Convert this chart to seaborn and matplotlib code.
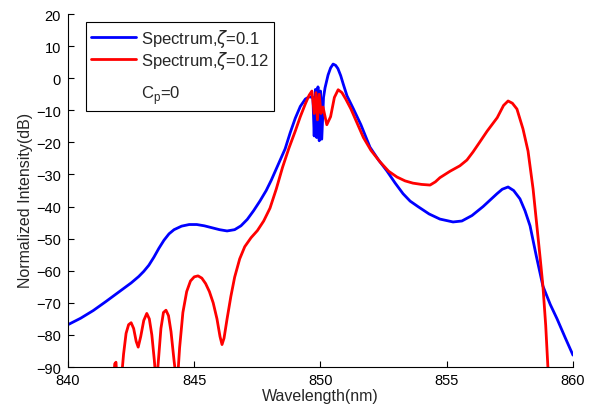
import matplotlib
matplotlib.use("Agg")
import matplotlib.pyplot as plt
import seaborn as sns
import pandas as pd
from matplotlib.lines import Line2D

# ---- data ----
blue_x = [840.0, 840.5, 841.0, 841.5, 842.0, 842.5, 842.8, 843.0, 843.2, 843.4,
          843.6, 843.8, 844.0, 844.2, 844.5, 844.8, 845.1, 845.4, 845.7, 846.0,
          846.3, 846.6, 846.85, 847.1, 847.35, 847.6, 847.85, 848.05, 848.28, 848.6,
          848.8, 849.0, 849.2, 849.4, 849.55, 849.7,
          849.75, 849.8, 849.85, 849.9, 849.95, 850.0, 850.05, 850.12,
          850.18, 850.3, 850.4, 850.5, 850.6, 850.69, 850.8, 850.9, 851.05, 851.3,
          851.6, 851.96, 852.3, 852.63, 852.95, 853.27, 853.55, 853.86, 854.3, 854.73,
          855.25, 855.6, 856.0, 856.44, 856.99, 857.2, 857.43, 857.65, 857.9, 858.1,
          858.3, 858.55, 858.81, 859.1, 859.37, 859.7, 860.0]
blue_y = [-76.8, -74.8, -72.4, -69.6, -66.7, -63.8, -61.8, -60.2, -58.3, -55.8,
          -53.0, -50.5, -48.5, -47.2, -46.1, -45.6, -45.6, -46.0, -46.6, -47.2,
          -47.6, -47.2, -46.0, -44.0, -41.3, -38.3, -35.0, -31.8, -27.7, -22.0,
          -17.0, -12.5, -8.8, -6.5, -5.8, -6.0,
          -18.0, -3.5, -18.5, -2.7, -19.5, -4.0, -19.0, -6.0,
          -3.0, 1.0, 3.2, 4.4, 4.0, 3.0, 0.8, -1.8, -5.5, -9.5,
          -14.5, -21.5, -25.5, -28.9, -32.6, -36.0, -38.3, -40.0, -42.3, -43.9,
          -44.8, -44.5, -42.8, -40.0, -36.0, -34.6, -33.9, -35.0, -37.6, -41.3,
          -46.0, -55.5, -64.8, -70.5, -75.0, -81.0, -86.3]

red_x = [841.8, 841.85, 841.9, 841.95, 842.1, 842.2, 842.3, 842.4, 842.5, 842.6,
         842.7, 842.78, 842.88, 843.0, 843.12, 843.22, 843.32, 843.42, 843.5, 843.58,
         843.68, 843.78, 843.88, 843.98, 844.08, 844.2, 844.32, 844.42, 844.55, 844.7,
         844.85, 845.0, 845.15, 845.3, 845.45, 845.6, 845.75, 845.9, 846.02, 846.1,
         846.18, 846.3, 846.45, 846.6, 846.8, 847.0, 847.25, 847.5, 847.75, 848.0,
         848.25, 848.5, 848.75, 849.0, 849.2, 849.4, 849.55, 849.66,
         849.75, 849.82, 849.88, 849.95, 850.02, 850.1, 850.25, 850.4, 850.55, 850.7,
         850.85, 851.0, 851.2, 851.45, 851.7, 852.0, 852.36, 852.7, 853.03, 853.35,
         853.66, 854.0, 854.34, 854.55, 854.73, 855.13, 855.52, 855.8, 856.04, 856.3,
         856.6, 857.0, 857.25, 857.43, 857.6, 857.78, 858.02, 858.22, 858.42, 858.57,
         858.7, 858.81, 858.92, 859.02]
red_y = [-95.0, -89.0, -88.5, -95.0, -95.0, -86.0, -79.5, -76.8, -76.2, -78.0,
         -82.0, -83.8, -80.5, -75.5, -73.3, -75.0, -80.0, -88.0, -96.0, -88.0,
         -78.0, -73.0, -72.3, -74.0, -79.0, -88.0, -96.0, -84.0, -73.0, -66.5,
         -63.2, -61.9, -61.6, -62.3, -64.0, -66.5, -70.0, -75.0, -80.5, -83.0,
         -81.0, -75.0, -68.0, -62.0, -56.3, -52.5, -49.7, -47.5, -44.5, -40.5,
         -34.5, -27.7, -21.8, -16.5, -12.0, -8.0, -5.3, -4.0,
         -11.0, -4.5, -13.0, -5.0, -11.0, -9.0, -14.5, -12.0, -6.0, -3.6,
         -4.5, -6.5, -9.5, -14.0, -18.5, -22.5, -26.1, -29.0, -30.8, -32.0,
         -32.7, -33.1, -33.3, -32.3, -31.0, -29.0, -27.3, -25.5, -23.0, -20.0,
         -16.5, -12.3, -8.5, -7.1, -7.8, -9.6, -15.8, -22.7, -34.5, -46.0,
         -56.0, -64.8, -77.0, -92.0]

labels = ["Spectrum,$\\zeta$=0.1", "Spectrum,$\\zeta$=0.12"]
note_label = "C$_\\mathregular{p}$=0"
x_ticks = [840, 845, 850, 855, 860]
y_ticks = [-90, -80, -70, -60, -50, -40, -30, -20, -10, 0, 10, 20]

# ---- plotting ----
sns.set_style("ticks")
plt.rcParams["font.family"] = ["Liberation Sans", "DejaVu Sans"]
plt.rcParams["mathtext.fontset"] = "dejavusans"
plt.rcParams["xtick.direction"] = "in"
plt.rcParams["ytick.direction"] = "in"

fig = plt.figure(figsize=(5.94, 4.10), dpi=100)
ax = fig.add_axes([0.1145, 0.1024, 0.8501, 0.861])

df_b = pd.DataFrame({"x": blue_x, "y": blue_y})
df_r = pd.DataFrame({"x": red_x, "y": red_y})
sns.lineplot(data=df_b, x="x", y="y", ax=ax, color="#0000ff", lw=2.0,
             sort=False, estimator=None, label=labels[0],
             solid_joinstyle="round", solid_capstyle="round")
sns.lineplot(data=df_r, x="x", y="y", ax=ax, color="#ff0000", lw=2.0,
             sort=False, estimator=None, label=labels[1],
             solid_joinstyle="round", solid_capstyle="round")

ax.set_xlim(840, 860)
ax.set_ylim(-90, 20)
ax.set_xticks(x_ticks)
ax.set_yticks(y_ticks)
ax.tick_params(labelsize=10.5, length=4, width=0.8, colors="black")
ax.tick_params(axis="x", pad=4)
ax.tick_params(axis="y", pad=5)
for s in ["top", "right"]:
    ax.spines[s].set_visible(False)
for s in ["left", "bottom"]:
    ax.spines[s].set_linewidth(0.8)
    ax.spines[s].set_color("black")
ax.set_xlabel("Wavelength(nm)", fontsize=11.5)
ax.set_ylabel("Normalized Intensity(dB)", fontsize=11.5)
ax.xaxis.set_label_coords(0.5, -0.060)
ax.yaxis.set_label_coords(-0.070, 0.476)

h, l = ax.get_legend_handles_labels()
h = list(h[:2]) + [Line2D([], [], color="none")]
l = list(l[:2]) + ["\n" + note_label]
leg = ax.legend(h, l, loc="upper left", bbox_to_anchor=(0.0356, 0.977),
                fontsize=12, frameon=True, fancybox=False, framealpha=1,
                edgecolor="black", handlelength=2.7, handletextpad=0.3,
                labelspacing=0.0, borderpad=0.3, borderaxespad=0)
leg.get_texts()[2].set_linespacing(0.78)
leg.get_frame().set_linewidth(0.8)

fig.savefig("out.png", dpi=100)
